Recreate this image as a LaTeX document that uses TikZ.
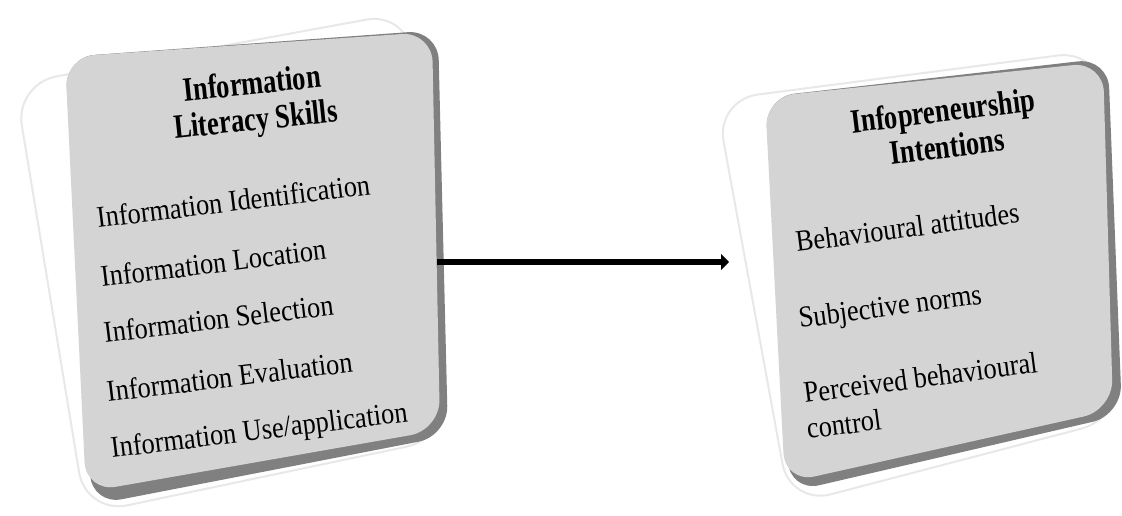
\documentclass[tikz,border=0pt]{standalone}
\usepackage{fontspec}
\setmainfont{Liberation Serif}
\usetikzlibrary{arrows.meta,positioning,calc}

\begin{document}
\begin{tikzpicture}[x=1pt,y=-1pt,
                    outer side/.style={fill=white,draw=gray!18,line width=2pt,rounded corners=42pt},
                    bevel side/.style={fill=black!50,rounded corners=30pt},
                    face side/.style={fill=gray!34,rounded corners=30pt},
                    head text/.style={font=\fontsize{34}{36}\selectfont\bfseries,align=center,xscale=0.78},
                    item text/.style={font=\fontsize{30}{31}\selectfont,anchor=base west,inner sep=0pt,xscale=0.88}]
\useasboundingbox (0,0) rectangle (1122,516);

\draw[outer side] (15,84) -- (408,12) -- (448,438) -- (86,514) -- cycle;
\fill[bevel side] (65,57) -- (438,30) -- (448,436) -- (92,505) -- cycle;
\fill[face side] (65,57) -- (432,32) -- (440,430) -- (86,492) -- cycle;

\draw[outer side] (716,100) -- (1100,50) -- (1122,418) -- (790,505) -- cycle;
\fill[bevel side] (765,97) -- (1108,58) -- (1122,415) -- (790,492) -- cycle;
\fill[face side] (765,97) -- (1103,62) -- (1113,410) -- (785,483) -- cycle;

\node[rotate=6,head text] (SkillsHead) at (254,104) {Information\\Literacy Skills};
\node[rotate=7,head text] (IntentHead) at (945,128) {Infopreneurship\\Intentions};

\foreach \t/\x/\y [count=\i] in {Information Identification/98/228,
                                  Information Location/102/287,
                                  Information Selection/105/343,
                                  Information Evaluation/108/402,
                                  Information Use\slash application/112/458}
   \node[rotate=7,item text] (Skill\i) at (\x,\y) {\t};

\foreach \t/\x/\y [count=\i] in {Behavioural attitudes/797/252,
                                  Subjective norms/800/328,
                                  Perceived behavioural/805/403,
                                  control/808/439}
   \node[rotate=7.5,item text] (Intent\i) at (\x,\y) {\t};

\coordinate (SkillsOut) at (437,262);
\coordinate (IntentIn) at (729,262);
\draw[-{Triangle[length=8pt,width=16pt]},line width=6.5pt] (SkillsOut) -- (IntentIn);

\end{tikzpicture}
\end{document}
